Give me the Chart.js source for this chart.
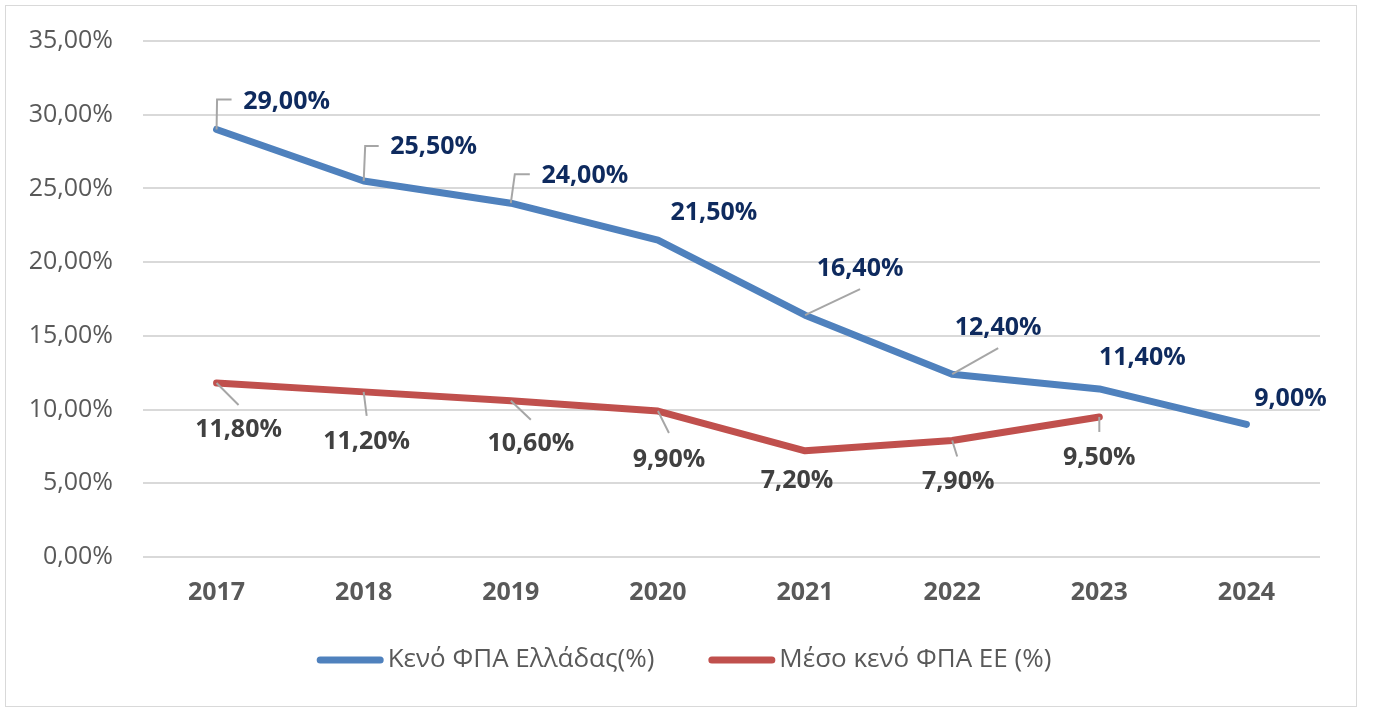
<!DOCTYPE html>
<html>
<head>
<meta charset="utf-8">
<script src="https://cdn.jsdelivr.net/npm/chart.js@4.4.1/dist/chart.umd.min.js"></script>
<style>
  body { margin: 0; background: #fff; }
  #frame { position: absolute; left: 5px; top: 5px; width: 1350px; height: 700px; border: 1px solid #d9d9d9; }
</style>
</head>
<body>
<div id="frame"><canvas id="vatGap"></canvas></div>
<script>
const years = ["2017", "2018", "2019", "2020", "2021", "2022", "2023", "2024"];
const greeceGap = [29.0, 25.5, 24.0, 21.5, 16.4, 12.4, 11.4, 9.0];
const euGap = [11.8, 11.2, 10.6, 9.9, 7.2, 7.9, 9.5, null];
const yTicks = [0, 5, 10, 15, 20, 25, 30, 35];

// label placement relative to each point: text centre and optional leader line
const greeceLabels = [
  { dx: 70, dy: -28, leader: [[0.5, -30], [15, -30]] },
  { dx: 70, dy: -34, leader: [[1.5, -35], [15, -35]] },
  { dx: 74, dy: -27, leader: [[4, -29], [19, -29]] },
  { dx: 56, dy: -27 },
  { dx: 55, dy: -46, leader: [[55, -26]] },
  { dx: 46, dy: -46, leader: [[46, -26]] },
  { dx: 43, dy: -31 },
  { dx: 44, dy: -25 },
];
const euLabels = [
  { dx: 22, dy: 47, leader: [[22, 22]] },
  { dx: 3, dy: 50, leader: [[3, 24]] },
  { dx: 20, dy: 43, leader: [[20, 19]] },
  { dx: 11, dy: 49, leader: [[11, 22]] },
  { dx: -8, dy: 30 },
  { dx: 6, dy: 41, leader: [[5, 16]] },
  { dx: 0, dy: 41, leader: [[0, 15]] },
];

const pct = v => v.toFixed(2).replace(".", ",") + "%";

const pointLabels = {
  id: "pointLabels",
  afterDatasetsDraw(chart) {
    const ctx = chart.ctx;
    chart.data.datasets.forEach((ds, di) => {
      const meta = chart.getDatasetMeta(di);
      meta.data.forEach((pt, i) => {
        const v = ds.data[i];
        const pos = ds.labelPos[i];
        if (v === null || !pos) return;
        ctx.save();
        if (pos.leader) {
          ctx.strokeStyle = "#a6a6a6";
          ctx.lineWidth = 2;
          ctx.beginPath();
          ctx.moveTo(pt.x, pt.y);
          pos.leader.forEach(p => ctx.lineTo(pt.x + p[0], pt.y + p[1]));
          ctx.stroke();
        }
        ctx.font = "bold 25px 'Open Sans'";
        ctx.fillStyle = ds.labelColor;
        ctx.textAlign = "center";
        ctx.textBaseline = "middle";
        ctx.fillText(pct(v), pt.x + pos.dx, pt.y + pos.dy);
        ctx.restore();
      });
    });
  }
};

// legend like the Excel one: long line swatch right against the text
const lineLegend = {
  id: "lineLegend",
  afterDraw(chart) {
    const ctx = chart.ctx;
    const swatch = 67, gapText = 4, gapItem = 54;
    const y = chart.chartArea.bottom + 103;
    ctx.save();
    ctx.font = "26px 'Open Sans'";
    const items = chart.data.datasets.map(ds => ({
      text: ds.label, color: ds.borderColor, w: ctx.measureText(ds.label).width,
    }));
    const total = items.reduce((s, it) => s + swatch + gapText + it.w, 0) + gapItem * (items.length - 1);
    let x = chart.width / 2 + 3 - total / 2;
    items.forEach(it => {
      ctx.strokeStyle = it.color;
      ctx.lineWidth = 7;
      ctx.lineCap = "round";
      ctx.beginPath();
      ctx.moveTo(x + 3.5, y);
      ctx.lineTo(x + swatch - 3.5, y);
      ctx.stroke();
      x += swatch + gapText;
      ctx.fillStyle = "#595959";
      ctx.textAlign = "left";
      ctx.textBaseline = "middle";
      ctx.fillText(it.text, x, y);
      x += it.w + gapItem;
    });
    ctx.restore();
  }
};

new Chart(document.getElementById("vatGap"), {
  type: "line",
  data: {
    labels: years,
    datasets: [
      {
        label: "Κενό ΦΠΑ Ελλάδας(%)",
        data: greeceGap,
        borderColor: "#4f81bd",
        backgroundColor: "#4f81bd",
        borderWidth: 7,
        borderCapStyle: "round",
        borderJoinStyle: "round",
        pointRadius: 0,
        labelPos: greeceLabels,
        labelColor: "#0e2a5e",
      },
      {
        label: "Μέσο κενό ΦΠΑ ΕΕ (%)",
        data: euGap,
        borderColor: "#c0504d",
        backgroundColor: "#c0504d",
        borderWidth: 7,
        borderCapStyle: "round",
        borderJoinStyle: "round",
        pointRadius: 0,
        labelPos: euLabels,
        labelColor: "#404040",
      },
    ],
  },
  options: {
    responsive: true,
    maintainAspectRatio: false,
    animation: false,
    layout: { padding: { top: 35, right: 36, bottom: 98, left: 0 } },
    plugins: {
      tooltip: { enabled: false },
      legend: { display: false },
    },
    scales: {
      x: {
        offset: true,
        afterFit: axis => { axis.height = 51; },
        grid: { display: false, drawTicks: false },
        border: { display: false },
        ticks: {
          padding: 21,
          maxRotation: 0,
          color: "#595959",
          font: { family: "'Open Sans'", size: 25, weight: "bold" },
        },
      },
      y: {
        min: 0,
        max: 35,
        afterBuildTicks: axis => { axis.ticks = yTicks.map(v => ({ value: v })); },
        afterFit: axis => {
          axis.width = 137;
          axis.paddingTop = 0;
          axis.paddingBottom = 0;
        },
        grid: { color: "#d9d9d9", lineWidth: 2, drawTicks: false },
        border: { display: false },
        ticks: {
          padding: 30,
          color: "#595959",
          font: { family: "'Open Sans'", size: 25 },
          callback: v => pct(v),
        },
      },
    },
  },
  plugins: [pointLabels, lineLegend],
});
</script>
</body>
</html>
